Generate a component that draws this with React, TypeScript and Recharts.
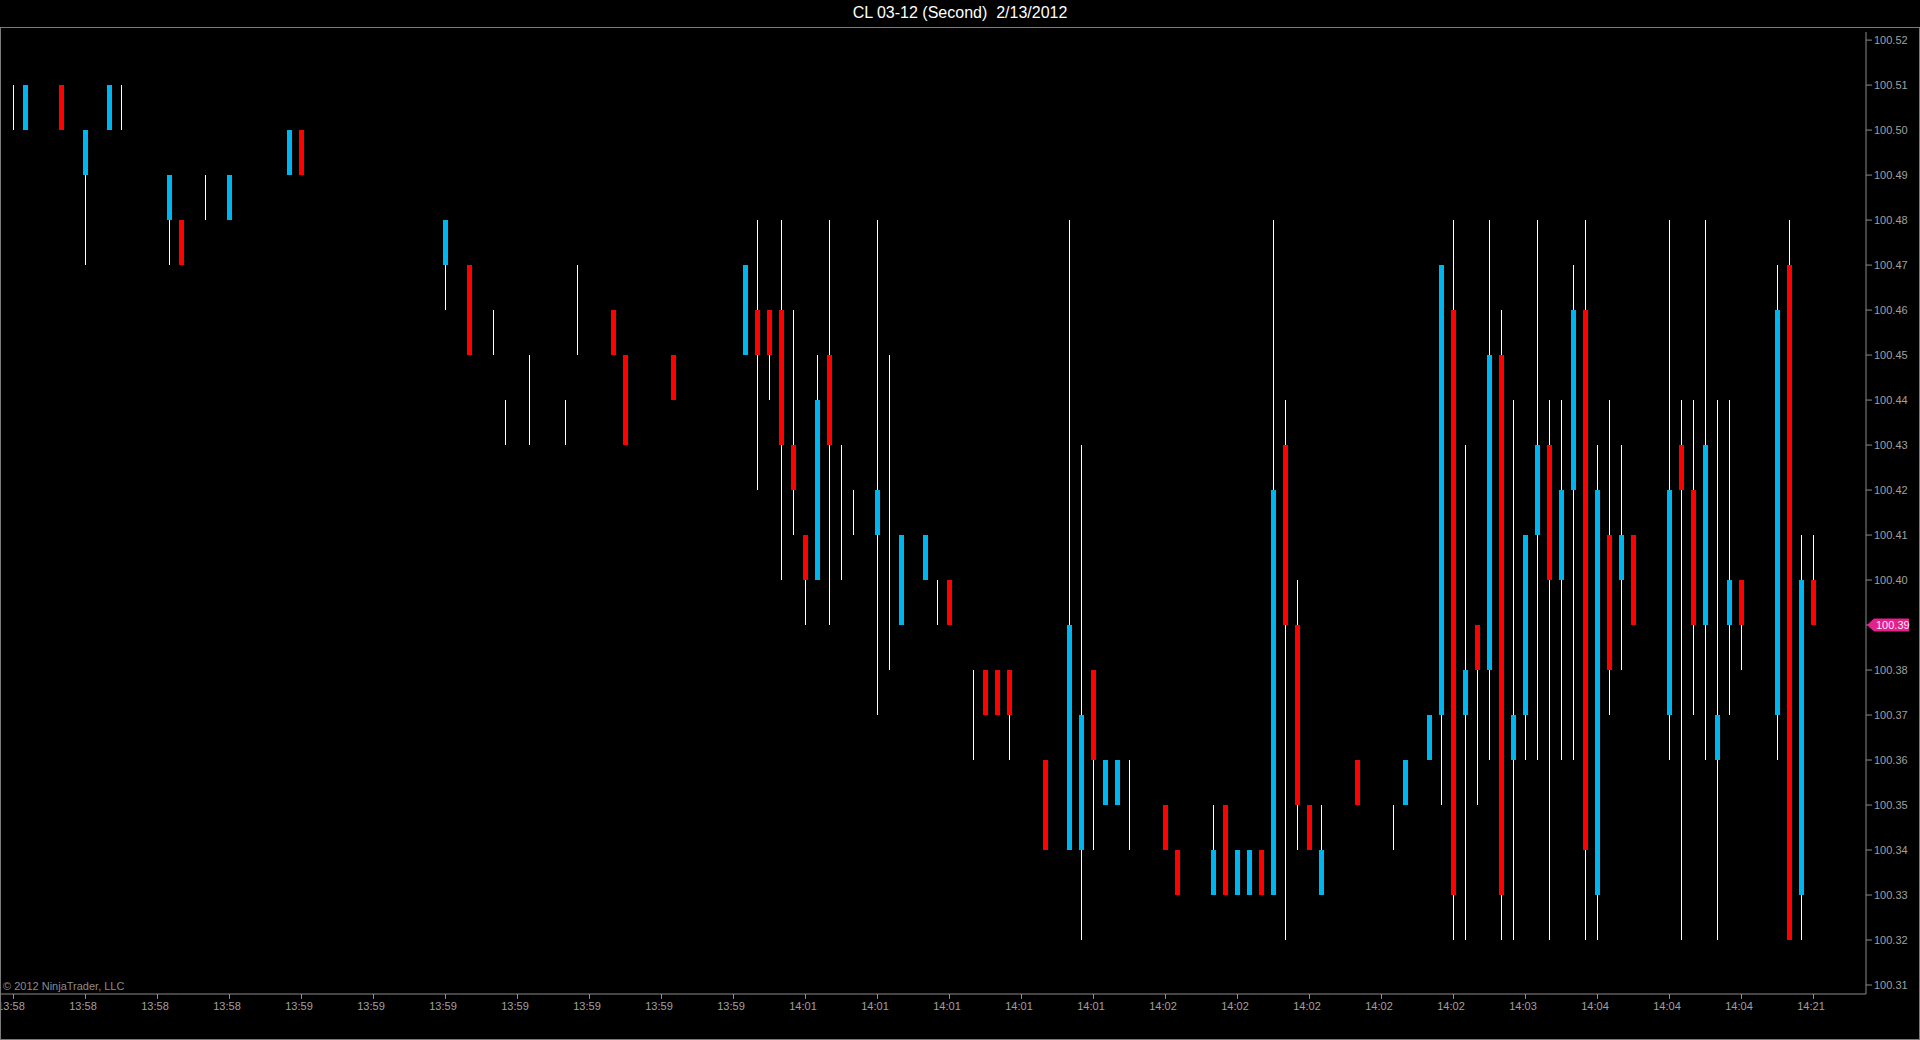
import { ComposedChart, Bar, XAxis, YAxis, ReferenceLine } from 'recharts'

// bar slots (one per second on the axis), empty slots have no trade
const slots = [
  0, 1, 4, 6, 8, 9, 13, 14, 16, 18,
  23, 24, 36, 38, 40, 41, 43, 46, 47, 50,
  51, 55, 61, 62, 63, 64, 65, 66, 67, 68,
  69, 70, 72, 73, 74, 76, 77, 78, 80, 81,
  82, 83, 86, 88, 89, 90, 91, 92, 93, 96,
  97, 100, 101, 102, 103, 104, 105, 106, 107, 108,
  109, 112, 115, 116, 118, 119, 120, 121, 122, 123,
  124, 125, 126, 127, 128, 129, 130, 131, 132, 133,
  134, 135, 138, 139, 140, 141, 142, 143, 144, 147,
  148, 149, 150,
]

const opens = [
  100.50, 100.50, 100.51, 100.49, 100.50, 100.50, 100.48, 100.48, 100.48, 100.48,
  100.49, 100.50, 100.47, 100.47, 100.45, 100.43, 100.43, 100.43, 100.45, 100.46,
  100.45, 100.45, 100.45, 100.46, 100.46, 100.46, 100.43, 100.41, 100.40, 100.45,
  100.40, 100.41, 100.41, 100.38, 100.39, 100.40, 100.39, 100.40, 100.36, 100.38,
  100.38, 100.38, 100.36, 100.34, 100.34, 100.38, 100.35, 100.35, 100.34, 100.35,
  100.34, 100.33, 100.35, 100.33, 100.33, 100.34, 100.33, 100.43, 100.39, 100.35,
  100.33, 100.36, 100.34, 100.35, 100.36, 100.37, 100.46, 100.37, 100.39, 100.38,
  100.45, 100.36, 100.37, 100.41, 100.43, 100.40, 100.42, 100.46, 100.33, 100.41,
  100.40, 100.41, 100.37, 100.43, 100.42, 100.39, 100.36, 100.39, 100.40, 100.37,
  100.47, 100.33, 100.40,
]

const highs = [
  100.51, 100.51, 100.51, 100.50, 100.51, 100.51, 100.49, 100.48, 100.49, 100.49,
  100.50, 100.50, 100.48, 100.47, 100.46, 100.44, 100.45, 100.44, 100.47, 100.46,
  100.45, 100.45, 100.47, 100.48, 100.46, 100.48, 100.46, 100.41, 100.45, 100.48,
  100.43, 100.42, 100.48, 100.45, 100.41, 100.41, 100.40, 100.40, 100.38, 100.38,
  100.38, 100.38, 100.36, 100.48, 100.43, 100.38, 100.36, 100.36, 100.36, 100.35,
  100.34, 100.35, 100.35, 100.34, 100.34, 100.34, 100.48, 100.44, 100.40, 100.35,
  100.35, 100.36, 100.35, 100.36, 100.37, 100.47, 100.48, 100.43, 100.39, 100.48,
  100.46, 100.44, 100.41, 100.48, 100.44, 100.44, 100.47, 100.48, 100.43, 100.44,
  100.43, 100.41, 100.48, 100.44, 100.44, 100.48, 100.44, 100.44, 100.40, 100.47,
  100.48, 100.41, 100.41,
]

const lows = [
  100.50, 100.50, 100.50, 100.47, 100.50, 100.50, 100.47, 100.47, 100.48, 100.48,
  100.49, 100.49, 100.46, 100.45, 100.45, 100.43, 100.43, 100.43, 100.45, 100.45,
  100.43, 100.44, 100.45, 100.42, 100.44, 100.40, 100.41, 100.39, 100.40, 100.39,
  100.40, 100.41, 100.37, 100.38, 100.39, 100.40, 100.39, 100.39, 100.36, 100.37,
  100.37, 100.36, 100.34, 100.34, 100.32, 100.34, 100.35, 100.35, 100.34, 100.34,
  100.33, 100.33, 100.33, 100.33, 100.33, 100.33, 100.33, 100.32, 100.34, 100.34,
  100.33, 100.35, 100.34, 100.35, 100.36, 100.35, 100.32, 100.32, 100.35, 100.36,
  100.32, 100.32, 100.36, 100.36, 100.32, 100.36, 100.36, 100.32, 100.32, 100.37,
  100.38, 100.39, 100.36, 100.32, 100.37, 100.36, 100.32, 100.37, 100.38, 100.36,
  100.32, 100.32, 100.39,
]

const closes = [
  100.50, 100.51, 100.50, 100.50, 100.51, 100.50, 100.49, 100.47, 100.48, 100.49,
  100.50, 100.49, 100.48, 100.45, 100.45, 100.43, 100.43, 100.43, 100.45, 100.45,
  100.43, 100.44, 100.47, 100.45, 100.45, 100.43, 100.42, 100.40, 100.44, 100.43,
  100.40, 100.41, 100.42, 100.38, 100.41, 100.41, 100.39, 100.39, 100.36, 100.37,
  100.37, 100.37, 100.34, 100.39, 100.37, 100.36, 100.36, 100.36, 100.34, 100.34,
  100.33, 100.34, 100.33, 100.34, 100.34, 100.33, 100.42, 100.39, 100.35, 100.34,
  100.34, 100.35, 100.34, 100.36, 100.37, 100.47, 100.33, 100.38, 100.38, 100.45,
  100.33, 100.37, 100.41, 100.43, 100.40, 100.42, 100.46, 100.34, 100.42, 100.38,
  100.41, 100.39, 100.42, 100.42, 100.39, 100.43, 100.37, 100.40, 100.39, 100.46,
  100.32, 100.40, 100.39,
]

// one label every 6 bars
const timeLabels = [
  '13:58', '13:58', '13:58', '13:58', '13:59', '13:59', '13:59', '13:59', '13:59',
  '13:59', '13:59', '14:01', '14:01', '14:01', '14:01', '14:01', '14:02', '14:02',
  '14:02', '14:02', '14:02', '14:03', '14:04', '14:04', '14:04', '14:21',
]

const priceTicks = [
  100.31, 100.32, 100.33, 100.34, 100.35, 100.36, 100.37, 100.38, 100.39, 100.40, 100.41,
  100.42, 100.43, 100.44, 100.45, 100.46, 100.47, 100.48, 100.49, 100.50, 100.51, 100.52,
]

const slotCount = 151
const lastPrice = closes[closes.length - 1]

const data: any[] = Array.from({ length: slotCount }, (_, i) => ({ i }))
slots.forEach((s, k) => {
  data[s] = {
    i: s,
    o: opens[k],
    h: highs[k],
    l: lows[k],
    c: closes[k],
    range: [lows[k], highs[k]],
  }
})

const UP = '#00b4f0'
const DOWN = '#ff0000'
const AXIS = '#8a8a8a'
const TEXT = '#a0a0a0'
const FONT = '"Liberation Sans", Arial, sans-serif'

function Candle(props: any) {
  const { x, y, width, height, payload } = props
  if (!payload || payload.h == null) return null
  const top = Math.min(y, y + height)
  const span = Math.abs(height)
  const k = span / (payload.h - payload.l)
  const cx = Math.floor(x + width / 2) + 0.5
  const py = (p: number) => top + (payload.h - p) * k
  const up = payload.c > payload.o
  const bodyTop = py(Math.max(payload.o, payload.c))
  const bodyBot = py(Math.min(payload.o, payload.c))
  return (
    <g shapeRendering="crispEdges">
      <line x1={cx} x2={cx} y1={top} y2={top + span} stroke="#ffffff" strokeWidth={1} />
      {payload.o !== payload.c && (
        <rect x={cx - 2.5} y={bodyTop} width={5} height={bodyBot - bodyTop} fill={up ? UP : DOWN} />
      )}
    </g>
  )
}

function TimeTick(props: any) {
  const { x, y, payload } = props
  const label = timeLabels[Math.round(payload.value / 6)] ?? ''
  return (
    <text x={x - 2.5} y={y} dy="0.71em" textAnchor="middle" fill={TEXT} fontSize={11} fontFamily={FONT}>
      {label}
    </text>
  )
}

function PriceTick(props: any) {
  const { x, y, payload } = props
  const v = payload.value
  if (Math.abs(v - lastPrice) < 1e-6) {
    const l = x - 7
    return (
      <g>
        <polygon
          points={`${l},${y} ${l + 7},${y - 6.5} ${x + 35},${y - 6.5} ${x + 35},${y + 6.5} ${l + 7},${y + 6.5}`}
          fill="#e3218c"
        />
        <text x={x + 2} y={y} dy="0.36em" fill="#ffe6f2" fontSize={11} fontFamily={FONT}>
          {v.toFixed(2)}
        </text>
      </g>
    )
  }
  return (
    <text x={x} y={y} dy="0.36em" fill={TEXT} fontSize={11} fontFamily={FONT}>
      {v.toFixed(2)}
    </text>
  )
}

function PriceLine(props: any) {
  const { x2, y1 } = props
  if (x2 == null || y1 == null) return null
  return <line x1={x2 - 64} x2={x2} y1={y1} y2={y1} stroke="#9a9a9a" strokeWidth={1} shapeRendering="crispEdges" />
}

export default function App() {
  return (
    <div style={{ position: 'relative', width: 1920, height: 1040, background: '#000', overflow: 'hidden' }}>
      <style>{'body{margin:0;background:#000}'}</style>
      <div
        style={{
          position: 'absolute',
          top: 0,
          left: 0,
          width: 1920,
          height: 26,
          lineHeight: '26px',
          textAlign: 'center',
          color: '#ffffff',
          fontFamily: FONT,
          fontSize: 16,
          whiteSpace: 'pre',
        }}
      >
        {'CL 03-12 (Second)  2/13/2012'}
      </div>
      <div
        style={{
          position: 'absolute',
          top: 979,
          left: 3,
          color: '#8c8c8c',
          fontFamily: FONT,
          fontSize: 11,
          lineHeight: '14px',
        }}
      >
        © 2012 NinjaTrader, LLC
      </div>
      <div style={{ position: 'absolute', top: 0, left: 0 }}>
        <ComposedChart
          width={1920}
          height={1040}
          data={data}
          margin={{ top: 32, right: 0, bottom: 16, left: 1 }}
        >
          <XAxis
            dataKey="i"
            type="category"
            interval={5}
            padding={{ left: 6.5, right: 46.5 }}
            height={30}
            axisLine={{ stroke: AXIS }}
            tickLine={{ stroke: AXIS }}
            tickSize={5}
            tickMargin={3}
            tick={<TimeTick />}
          />
          <YAxis
            orientation="right"
            type="number"
            width={54}
            domain={[100.308, 100.5218]}
            allowDataOverflow
            ticks={priceTicks}
            interval={0}
            axisLine={{ stroke: AXIS }}
            tickLine={{ stroke: AXIS }}
            tickSize={6}
            tickMargin={2}
            tick={<PriceTick />}
          />
          <ReferenceLine y={lastPrice} shape={<PriceLine />} />
          <Bar dataKey="range" shape={<Candle />} isAnimationActive={false} />
        </ComposedChart>
      </div>
      <div
        style={{
          position: 'absolute',
          top: 27,
          left: 0,
          width: 1918,
          height: 1011,
          border: '1px solid #7a7a7a',
          pointerEvents: 'none',
        }}
      />
    </div>
  )
}
